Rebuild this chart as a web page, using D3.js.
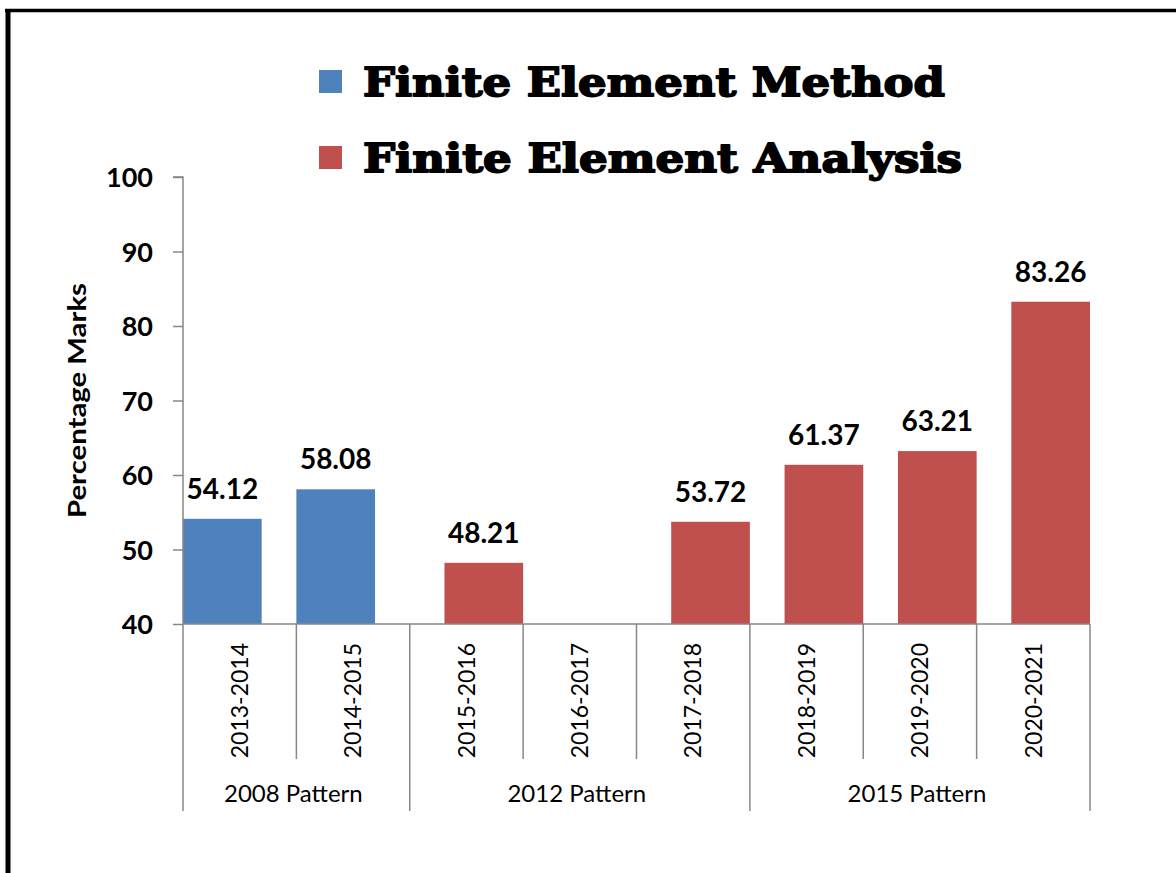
<!DOCTYPE html>
<html><head><meta charset="utf-8">
<script src="https://cdn.jsdelivr.net/npm/d3@7/dist/d3.min.js"></script>
<style>body{margin:0;background:#fff;} svg{display:block;}</style>
</head><body>
<svg id="c" width="1176" height="873"></svg>
<script>
const categories = ["2013-2014","2014-2015","2015-2016","2016-2017","2017-2018","2018-2019","2019-2020","2020-2021"];
const groups = ["2008 Pattern","2012 Pattern","2015 Pattern"];
const groupSizes = [2,3,3];
const seriesNames = ["Finite Element Method","Finite Element Analysis"];
const femValues = [54.12,58.08,null,null,null,null,null,null];
const feaValues = [null,null,48.21,null,53.72,61.37,63.21,83.26];
const yTicks = [40,50,60,70,80,90,100];
const colors = ["#4F81BD","#C0504D"];

(function(){
const svg = d3.select("#c");
const pL = 183, pR = 1090, pT = 177, pB = 624;
const x = d3.scaleBand().domain(categories).range([pL,pR]).padding(0);
const y = d3.scaleLinear().domain([40,100]).range([pB,pT]);
const axisColor = "#878787";
const barFrac = 0.694;

// frame
svg.append("line").attr("x1",8).attr("x2",8).attr("y1",9).attr("y2",873).attr("stroke","#000").attr("stroke-width",5);
svg.append("line").attr("x1",5).attr("x2",1176).attr("y1",10.5).attr("y2",10.5).attr("stroke","#000").attr("stroke-width",3.5);

// bars
const series = [femValues, feaValues];
series.forEach((vals, si) => {
  const bw = x.bandwidth()*barFrac;
  const data = categories.map((c,i)=>({c, v: vals[i]})).filter(d=>d.v!=null);
  const bx = d => si===0 ? x(d.c) : x(d.c)+x.bandwidth()-bw;
  svg.append("g").selectAll("rect").data(data).join("rect")
    .attr("x", bx).attr("width", bw)
    .attr("y", d=>y(d.v)).attr("height", d=>y(40)-y(d.v))
    .attr("fill", colors[si]);
  svg.append("g").selectAll("text").data(data).join("text")
    .attr("x", d=>bx(d)+bw/2).attr("y", d=>y(d.v)-20)
    .attr("text-anchor","middle")
    .style("font-family","Lato, 'Open Sans', sans-serif").style("font-weight","700").style("font-size","28px")
    .attr("fill","#000")
    .text(d=>d.v.toFixed(2));
});

// y axis
const yAxis = d3.axisLeft(y).tickValues(yTicks).tickSize(10).tickPadding(20).tickFormat(d3.format("d"));
const yg = svg.append("g").attr("transform",`translate(${pL},0)`).call(yAxis);
yg.select(".domain").attr("stroke",axisColor).attr("stroke-width",1.5).attr("d",`M-10,${pT}H0V${pB}`);
yg.selectAll(".tick line").attr("stroke",axisColor).attr("stroke-width",1.5);
yg.selectAll(".tick text").attr("fill","#000").attr("dy","0.36em")
  .style("font-family","Lato, 'Open Sans', sans-serif").style("font-weight","700").style("font-size","27px");

// y title
svg.append("text").attr("transform","translate(86,400.5) rotate(-90)")
  .attr("text-anchor","middle")
  .style("font-family","Lato, 'Open Sans', sans-serif").style("font-weight","700").style("font-size","24px")
  .attr("textLength",235).attr("lengthAdjust","spacingAndGlyphs")
  .text("Percentage Marks");

// x axis baseline
svg.append("line").attr("x1",pL).attr("x2",pR).attr("y1",pB).attr("y2",pB).attr("stroke",axisColor).attr("stroke-width",1.5);

// category separators
let acc = 0;
const groupBounds = [0];
groupSizes.forEach(s=>{acc+=s; groupBounds.push(acc);});
for (let i=0;i<=categories.length;i++){
  const xp = i<categories.length ? x(categories[i]) : pR;
  const isGroup = groupBounds.includes(i);
  svg.append("line").attr("x1",xp).attr("x2",xp).attr("y1",pB).attr("y2", isGroup?811:759)
    .attr("stroke",axisColor).attr("stroke-width",1.5);
}

// category labels
svg.append("g").selectAll("text").data(categories).join("text")
  .attr("transform", d=>`translate(${x(d)+x.bandwidth()/2},643) rotate(-90)`)
  .attr("text-anchor","end").attr("dy","0.36em")
  .style("font-family","Lato, 'Open Sans', sans-serif").style("font-size","23px").attr("fill","#000")
  .text(d=>d);

// group labels
groups.forEach((g,i)=>{
  const x0 = x(categories[groupBounds[i]]);
  const x1 = groupBounds[i+1] < categories.length ? x(categories[groupBounds[i+1]]) : pR;
  svg.append("text").attr("x",(x0+x1)/2 - 3).attr("y",802).attr("text-anchor","middle")
    .style("font-family","Lato, 'Open Sans', sans-serif").style("font-size","24px").attr("fill","#000")
    .text(g);
});

// legend
const legY = [96, 172];
const legW = [582, 599];
seriesNames.forEach((n,i)=>{
  svg.append("rect").attr("x",319).attr("y",legY[i]-26).attr("width",23).attr("height",23).attr("fill",colors[i]);
  svg.append("text").attr("x",363).attr("y",legY[i])
    .style("font-family","'DejaVu Serif', serif").style("font-weight","900").style("font-size","40px")
    .attr("textLength",legW[i]).attr("lengthAdjust","spacingAndGlyphs")
    .attr("stroke","#000").attr("stroke-width",1.8).attr("stroke-linejoin","round")
    .text(n);
});
})();
</script>
</body></html>
